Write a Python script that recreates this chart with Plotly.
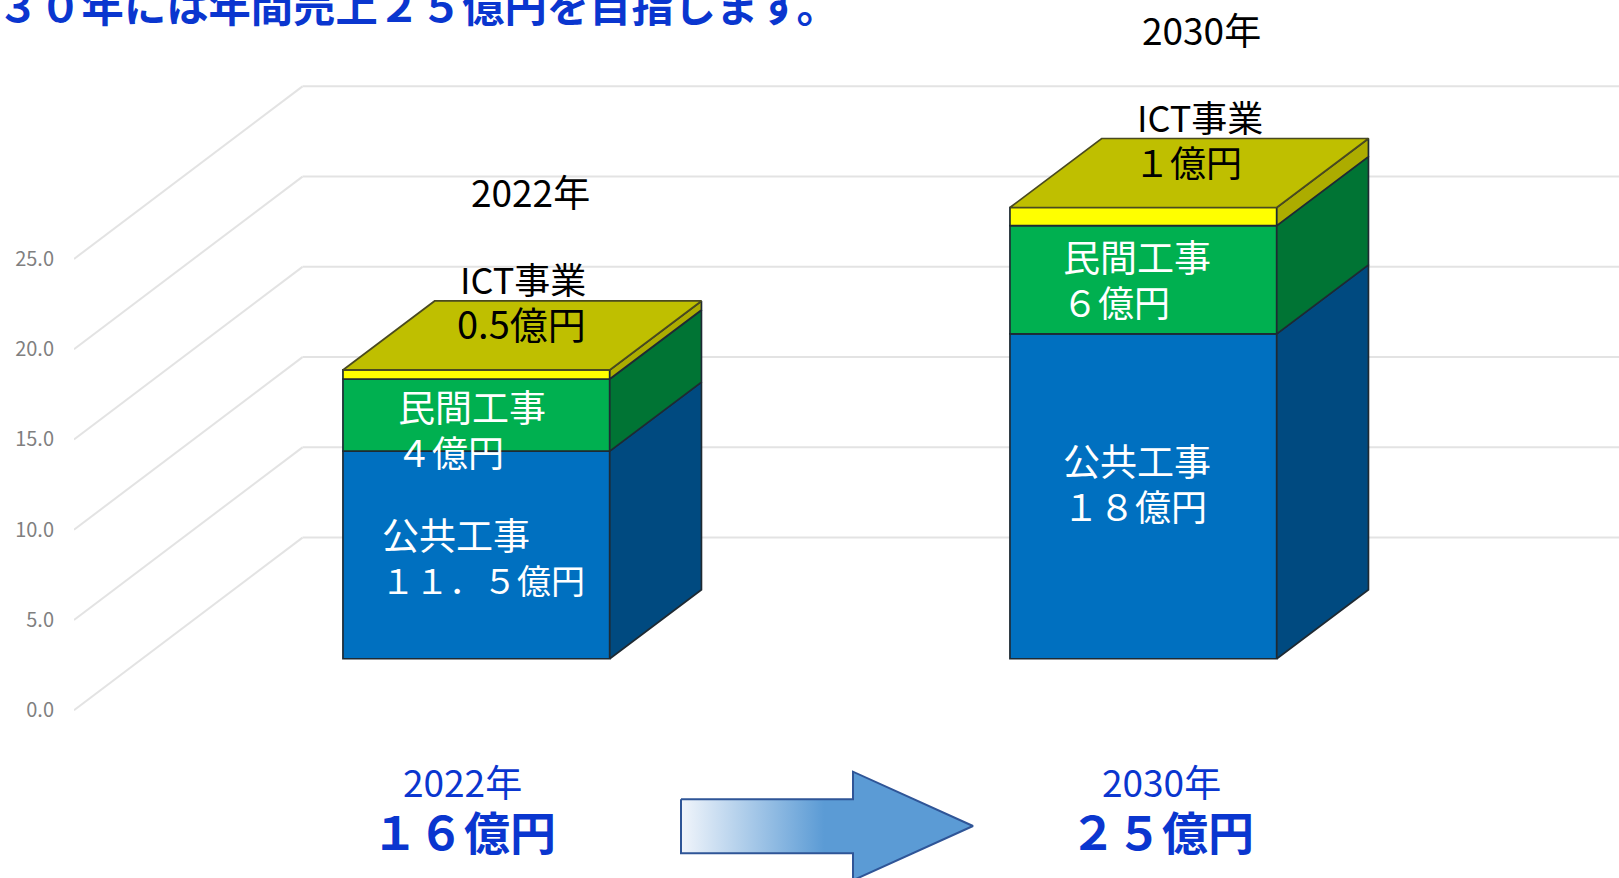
import plotly.graph_objects as go

# ---- data ----
years = ["2022年", "2030年"]
public_works = [11.5, 18.0]
private_works = [4.0, 6.0]
ict_business = [0.5, 1.0]
y_ticks = [0, 5, 10, 15, 20, 25]

# ---- layout geometry ----
W, H = 1619, 878
LEFT = 74
X_PER_UNIT = 667.0          # px between the two columns
X0_PX = 476.35              # px of the first column centre
Y_PER_UNIT = 18.05          # px per 1 億円
Y0_PX = 710.2               # px of value 0
BAR_WIDTH = 0.4
BAR_BASE = 2.85             # front floor offset of the 3-D columns
DEPTH_X, DEPTH_Y = 91.7 / X_PER_UNIT, 69 / Y_PER_UNIT
GRID_DX, GRID_DY = 228.5 / X_PER_UNIT, 172.6 / Y_PER_UNIT


def dx(px):
    return (px - X0_PX) / X_PER_UNIT


def dy(py):
    return (Y0_PX - py) / Y_PER_UNIT


FONT = "Noto Sans CJK JP"
BLUE_TEXT = "#0A36CF"
EDGE = "#1E2A33"
series = [
    ("公共工事", public_works, "#0070C0", "#004A80"),
    ("民間工事", private_works, "#00B050", "#007434"),
    ("ICT事業", ict_business, "#FFFF00", "#ACAC00"),
]
TOP_COLOR = "#BFBF00"

fig = go.Figure()

# front faces and side faces of the stacked columns
bases = [BAR_BASE for _ in years]
xs = list(range(len(years)))
for name, vals, front, side in series:
    fig.add_trace(go.Bar(
        x=xs, y=vals, base=list(bases), width=BAR_WIDTH, name=name,
        marker=dict(color=front, line=dict(color=EDGE, width=1.7)),
        showlegend=False, hoverinfo="skip",
    ))
    for i in xs:
        xr = i + BAR_WIDTH / 2
        b, t = bases[i], bases[i] + vals[i]
        fig.add_trace(go.Scatter(
            x=[xr, xr + DEPTH_X, xr + DEPTH_X, xr, xr],
            y=[b, b + DEPTH_Y, t + DEPTH_Y, t, b],
            mode="lines", fill="toself", fillcolor=side,
            line=dict(color=EDGE, width=1.7),
            showlegend=False, hoverinfo="skip",
        ))
    bases = [b + v for b, v in zip(bases, vals)]

# top faces
for i in xs:
    xl, xr, t = i - BAR_WIDTH / 2, i + BAR_WIDTH / 2, bases[i]
    fig.add_trace(go.Scatter(
        x=[xl, xl + DEPTH_X, xr + DEPTH_X, xr, xl],
        y=[t, t + DEPTH_Y, t + DEPTH_Y, t, t],
        mode="lines", fill="toself", fillcolor=TOP_COLOR,
        line=dict(color="#4A4A20", width=1.7),
        showlegend=False, hoverinfo="skip",
    ))

# perspective gridlines, under every trace
grid_shapes = []
x_left = dx(LEFT)
for v in y_ticks:
    grid = dict(type="line", layer="below", xref="x", yref="y",
                line=dict(color="#E3E3E3", width=2))
    grid_shapes.append({**grid, "x0": x_left, "y0": v,
                        "x1": x_left + GRID_DX, "y1": v + GRID_DY})
    grid_shapes.append({**grid, "x0": x_left + GRID_DX, "y0": v + GRID_DY,
                        "x1": dx(W), "y1": v + GRID_DY})

# arrow with gradient between the totals
arrow_px = [(681, 799.3), (853, 799.3), (853, 771.7), (973, 826),
            (853, 880.3), (853, 853.3), (681, 853.3), (681, 799.3)]
fig.add_trace(go.Scatter(
    x=[dx(p[0]) for p in arrow_px], y=[dy(p[1]) for p in arrow_px],
    mode="lines", fill="toself",
    fillgradient=dict(type="horizontal", start=dx(681), stop=dx(973),
                      colorscale=[[0, "#F1F5FB"], [0.49, "#5B9BD5"], [1, "#5B9BD5"]]),
    line=dict(color="#2F5597", width=2),
    showlegend=False, hoverinfo="skip",
))


def label(text, x, y, size, color="black", anchor="left", bold=False):
    if bold:
        text = "<b>" + text + "</b>"
    return dict(text=text, x=dx(x), y=dy(y), xref="x", yref="y",
                xanchor=anchor, yanchor="middle", showarrow=False,
                font=dict(family=FONT, size=size, color=color))


annotations = [
    label("３０年には年間売上２５億円を目指します。", 417.5, 3, 42.3, BLUE_TEXT, anchor="center", bold=True),
    label(years[0], 530, 190.5, 37, anchor="center"),
    label(years[1], 1201, 28.5, 37, anchor="center"),
    label("ICT事業", 523, 277.5, 36, anchor="center"),
    label("0.5億円", 521.5, 322.5, 38, anchor="center"),
    label("ICT事業", 1199.5, 115.5, 36, anchor="center"),
    label("１億円", 1132, 160.5, 36),
    label("民間工事", 396, 405.5, 37, "white"),
    label("４億円", 394, 450.5, 36, "white"),
    label("公共工事", 380, 533.5, 37, "white"),
    label("１１．５億円", 379, 579.5, 34, "white"),
    label("民間工事", 1061, 255.5, 37, "white"),
    label("６億円", 1060, 300.5, 36, "white"),
    label("公共工事", 1061, 460, 37, "white"),
    label("１８億円", 1061, 504.5, 36, "white"),
    label(years[0], 462.5, 780.5, 37, BLUE_TEXT, anchor="center"),
    label("１６億円", 463.5, 830, 46, BLUE_TEXT, anchor="center", bold=True),
    label(years[1], 1161, 780.5, 37, BLUE_TEXT, anchor="center"),
    label("２５億円", 1162, 830, 46, BLUE_TEXT, anchor="center", bold=True),
]

fig.update_layout(
    width=W, height=H, margin=dict(l=LEFT, r=0, t=0, b=0),
    barmode="overlay", paper_bgcolor="white", plot_bgcolor="white",
    xaxis=dict(range=[dx(LEFT), dx(W)], visible=False),
    yaxis=dict(
        range=[dy(H), dy(0)], tickvals=y_ticks, tickformat=".1f",
        showgrid=False, zeroline=False, showline=False,
        ticks="outside", ticklen=15, tickcolor="rgba(0,0,0,0)",
        tickfont=dict(family=FONT, size=20, color="#7F7F7F"),
    ),
    shapes=grid_shapes, annotations=annotations,
)

fig.write_html("out.html", config={"displayModeBar": False},
               post_script="document.body.style.margin='0';document.body.style.overflow='hidden';")
